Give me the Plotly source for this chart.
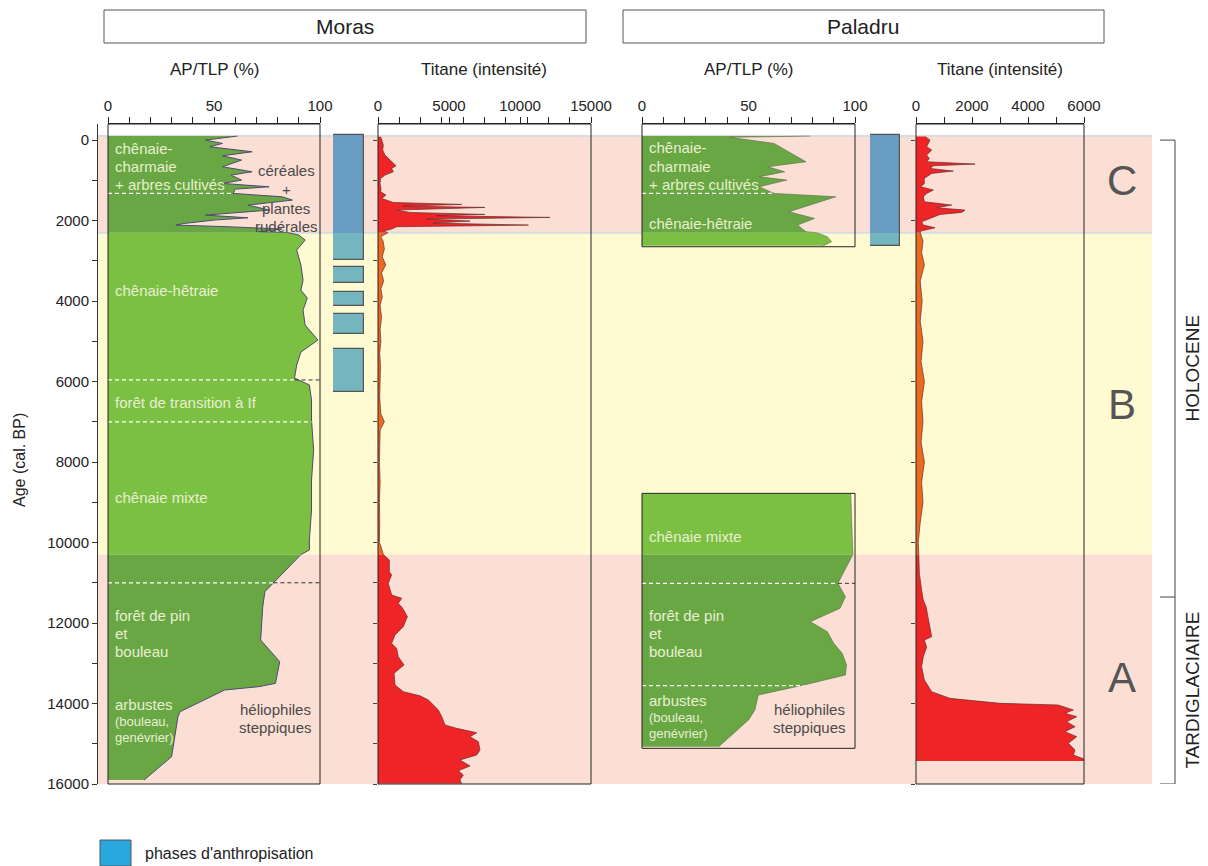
import plotly.graph_objects as go

# the page adds an 8px body margin: reference pixel positions are shifted by 8px
OFF = 8
W, H = 1208 - OFF, 866 - OFF
TOP, BOT = 124, 784          # plot area (reference pixels)
FONT = "Liberation Sans, Arial, sans-serif"

# ---------------- data (ages cal. BP) ----------------
zone_limits = [-100, 2300, 10300, 16000]       # C / B / A
zone_names = ["C", "B", "A"]
zone_label_age = [994, 6559, 13342]

moras_ap_age = [-100, 0, 83, 166, 290, 389, 497, 580, 663, 787, 870, 994, 1077, 1160, 1218, 1325,
                1408, 1491, 1615, 1740, 1864, 1930, 1988, 2071, 2112, 2153, 2211, 2277, 2300, 2360,
                2484, 2733, 3106, 3478, 3727, 3925, 4224, 4596, 4969, 5267, 5590, 5913, 6087, 6460,
                6957, 7702, 8447, 9193, 9938, 10186, 10300, 10683, 11014, 11222, 11594, 12422,
                12961, 13499, 13582, 13665, 14203, 14327, 15321, 15901]
moras_ap = [61, 46, 54, 48, 68, 54, 63, 58, 54, 68, 58, 63, 54, 76, 60, 59,
            82, 87, 66, 76, 46, 66, 50, 36, 32, 57, 82, 71, 85, 90,
            93, 89, 91, 92, 91, 94, 92, 93, 99, 91, 89, 88, 95, 96,
            96, 97, 96, 96, 95, 95, 91, 84, 78, 74, 73, 72,
            81, 79, 71, 55, 34, 33, 30, 17]

moras_ti_age = [-83, 0, 124, 248, 373, 497, 580, 638, 704, 787, 870, 952, 1077, 1201, 1284, 1367,
                1449, 1549, 1598, 1640, 1673, 1739, 1797, 1847, 1880, 1921, 1963, 2012, 2062, 2112,
                2153, 2211, 2261, 2300, 2402, 2500, 2700, 2900, 3100, 3300, 3500, 3700, 3900, 4100,
                4400, 4700, 5000, 5300, 5600, 6000, 6400, 6800, 7000, 7200, 7600, 8000, 8500, 9000,
                9500, 10000, 10104, 10300, 10435, 10725, 10807, 11014, 11304, 11387, 11511, 11635,
                11842, 12091, 12298, 12505, 12630, 12837, 13043, 13250, 13540, 13706, 13809, 13913,
                14161, 14327, 14534, 14617, 14725, 14824, 14948, 15155, 15280, 15404, 15553, 15669,
                15777, 15901, 15990]
moras_ti = [190, 260, 375, 330, 490, 845, 1080, 1270, 960, 1080, 490, 190, 140, 210, 190, 560,
            260, 1080, 5890, 1780, 7530, 1310, 2250, 7530, 4130, 12100, 3430, 6480, 3900, 10590,
            1310, 960, 375, 700, 190, 350, 450, 300, 550, 250, 400, 200, 300, 150,
            250, 150, 200, 120, 180, 150, 120, 200, 450, 150, 120, 100, 150, 100,
            120, 100, 210, 375, 800, 800, 960, 725, 960, 1670, 1430, 1740,
            2070, 1780, 1200, 960, 1310, 1430, 1830, 1130, 1200, 1780, 2960, 3550,
            4250, 4490, 4720, 5540, 6950, 6480, 7070, 7180, 6950, 5770, 6480, 5660,
            6010, 5770, 5890]

pal_ap_top_age = [-100, -70, 83, 538, 663, 787, 911, 994, 1160, 1325, 1408, 1781, 1946, 2112,
                  2277, 2300, 2402, 2526, 2626]
pal_ap_top = [79, 41, 62, 77, 59, 67, 55, 68, 55, 62, 91, 69, 81, 73, 77, 82, 87, 89, 85]

pal_ap_bot_age = [8790, 10300, 11014, 11346, 11635, 11967, 12215, 12505, 12754, 13043, 13292,
                  13540, 13789, 14161, 14410, 15073]
pal_ap_bot = [98, 99, 92, 95.5, 93, 79, 87, 90, 94, 96, 95.5, 76, 54.6, 53, 50, 36]

pal_ti_age = [-91, 0, 83, 166, 248, 373, 456, 538, 596, 638, 704, 770, 828, 952, 1077, 1160,
              1242, 1325, 1408, 1532, 1615, 1681, 1739, 1797, 1847, 1930, 2029, 2112, 2178, 2261,
              2300, 2500, 2800, 3100, 3500, 4000, 4500, 5000, 5500, 6000, 6500, 7000, 7500, 8000,
              8500, 9000, 9500, 10000, 10300, 10766, 11180, 11429, 11594, 11925, 12339, 12422,
              12600, 12837, 13085, 13416, 13706, 13872, 13996, 14037, 14161, 14244, 14327, 14451,
              14575, 14700, 14824, 14990, 15155, 15280, 15404, 15429]
pal_ti = [320, 500, 440, 380, 560, 380, 475, 380, 2110, 620, 500, 1330, 560, 290, 300, 170,
          620, 380, 260, 300, 1275, 740, 1750, 1630, 860, 560, 200, 260, 680, 170,
          150, 250, 200, 300, 150, 220, 150, 250, 180, 300, 200, 250, 180, 300,
          200, 250, 150, 80, 100, 120, 200, 260, 360, 440, 560, 300,
          380, 260, 200, 300, 560, 1210, 3000, 5080, 5620, 5320, 5740, 5380,
          5680, 5320, 5740, 5440, 5680, 5620, 6180, 6180]

moras_phase_start = [-120, 3147, 3784, 4331, 5193]
moras_phase_end = [2981, 3545, 4116, 4828, 6253]
pal_phase_start = [-120]
pal_phase_end = [2630]

# vegetation limits (age, curve value where the white dash stops, dark dash continues?)
moras_limits = [(1325, 59, False), (5960, 88, True), (7000, 96, False), (11000, 78, True)]
pal_limits = [(1325, 62, False), (11014, 92, True), (13557, 76, False)]

pal_boxes = [(-400, 2650), (8778, 15114)]

# ---------------- styling ----------------
PINK, YELLOW = "#fbdfd4", "#fffad2"
GREEN_DARK, GREEN_LIGHT = "#68a744", "#7bc043"
RED, ORANGE = "#ee2427", "#ec6a1f"
BAR_C, BAR_B = "#6a9dc4", "#74b6c0"
LIGHT_TXT, DARK_TXT = "#e9efd0", "#4a4a4a"
zone_fill = {"C": PINK, "B": YELLOW, "A": PINK}


def px(x):
    return (x - OFF) / W


def py(y):
    return (BOT - y) / (BOT - TOP)


def segments(ages, vals):
    # cut a profile at the zone limits (boundary samples belong to both parts)
    out = []
    for i, name in enumerate(zone_names):
        lo = zone_limits[i] if i else -1000
        hi = zone_limits[i + 1] if i < 2 else 99999
        pts = [(a, v) for a, v in zip(ages, vals) if lo <= a <= hi]
        if len(pts) > 1:
            out.append((name, [p[1] for p in pts], [p[0] for p in pts]))
    return out


fig = go.Figure()


def add_profile(ages, vals, xa, ya, c_out, c_in, edge, lw):
    for name, v, a in segments(ages, vals):
        fig.add_trace(go.Scatter(
            x=v, y=a, xaxis=xa, yaxis=ya, mode="lines", fill="tozerox",
            fillcolor=c_in if name == "B" else c_out,
            line=dict(color=edge, width=lw), hoverinfo="skip", showlegend=False))


add_profile(moras_ap_age, moras_ap, "x", "y", GREEN_DARK, GREEN_LIGHT, "#4e4a72", 1)
add_profile(pal_ap_top_age, pal_ap_top, "x4", "y", GREEN_DARK, GREEN_LIGHT, "#5b6650", 0.6)
add_profile(pal_ap_bot_age, pal_ap_bot, "x4", "y", GREEN_DARK, GREEN_LIGHT, "#5b6650", 0.6)
add_profile(moras_ti_age, moras_ti, "x3", "y2", RED, ORANGE, "#6a2b2b", 0.7)
add_profile(pal_ti_age, pal_ti, "x6", "y3", RED, ORANGE, "#6a2b2b", 0.7)


def add_phases(starts, ends, xa):
    for s, e in zip(starts, ends):
        for i, name in enumerate(zone_names):
            lo, hi = max(s, zone_limits[i] if i else -1000), min(e, zone_limits[i + 1])
            if hi > lo:
                fig.add_trace(go.Bar(
                    x=[0.5], y=[hi - lo], base=[lo], width=1, xaxis=xa, yaxis="y",
                    marker=dict(color=BAR_B if name == "B" else BAR_C, line=dict(width=0)),
                    hoverinfo="skip", showlegend=False))
    fig.add_trace(go.Bar(
        x=[0.5] * len(starts), y=[e - s for s, e in zip(starts, ends)], base=starts,
        width=1, xaxis=xa, yaxis="y",
        marker=dict(color="rgba(0,0,0,0)", line=dict(color="#555", width=1.2)),
        hoverinfo="skip", showlegend=False))


add_phases(moras_phase_start, moras_phase_end, "x2")
add_phases(pal_phase_start, pal_phase_end, "x5")


def add_limits(limits, xa):
    for age, stop, dark in limits:
        fig.add_trace(go.Scatter(x=[0, stop], y=[age, age], xaxis=xa, yaxis="y", mode="lines",
                                 line=dict(color="white", width=1.2, dash="4px,3px"),
                                 hoverinfo="skip", showlegend=False))
        if dark:
            fig.add_trace(go.Scatter(x=[stop, 100], y=[age, age], xaxis=xa, yaxis="y",
                                     mode="lines",
                                     line=dict(color="#333", width=1, dash="4px,3px"),
                                     hoverinfo="skip", showlegend=False))


add_limits(moras_limits, "x")
add_limits(pal_limits, "x4")

# ---------------- axes ----------------
tick_font = dict(family=FONT, size=15, color="#222")


def top_axis(dom, rng, major, minor, anchor):
    return dict(domain=[px(dom[0]), px(dom[1])], range=rng, side="top", anchor=anchor,
                showline=True, linecolor="#222", linewidth=1, ticks="outside", ticklen=6,
                tickcolor="#222", tickvals=major, ticktext=[str(v) for v in major],
                minor=dict(tickvals=minor, ticks="outside", ticklen=6, tickcolor="#222"),
                showgrid=False, zeroline=False, tickfont=tick_font, fixedrange=True,
                automargin=False)


hidden = dict(range=[0, 1], visible=False, showgrid=False, zeroline=False, fixedrange=True,
              automargin=False)
age_ticks = list(range(0, 16001, 2000))

fig.update_layout(
    width=W, height=H,
    margin=dict(l=0, r=0, t=TOP - OFF, b=H - (BOT - OFF), pad=0, autoexpand=False),
    paper_bgcolor="white", plot_bgcolor="rgba(0,0,0,0)",
    font=dict(family=FONT, color="#222"), bargap=0, barmode="overlay",
    xaxis=top_axis((108, 320), [0, 100], [0, 50, 100], list(range(0, 101, 10)), "y"),
    xaxis2=dict(domain=[px(333), px(364)], anchor="y", **hidden),
    xaxis3=top_axis((378, 591), [0, 15000], [0, 5000, 10000, 15000],
                    list(range(0, 15001, 1500)), "y2"),
    xaxis4=top_axis((642, 855), [0, 100], [0, 50, 100], list(range(0, 101, 10)), "y"),
    xaxis5=dict(domain=[px(870), px(900)], anchor="y", **hidden),
    xaxis6=top_axis((916, 1084), [0, 6000], [0, 2000, 4000, 6000],
                    list(range(0, 6001, 1000)), "y3"),
    yaxis=dict(range=[16000, -400], anchor="free", position=px(97), showline=True,
               linecolor="#333", linewidth=1, ticks="outside", ticklen=5, tickcolor="#333",
               tickvals=age_ticks, ticktext=[str(v) for v in age_ticks],
               minor=dict(tickvals=list(range(1000, 16000, 2000)), ticks="outside",
                          ticklen=5, tickcolor="#333"),
               showgrid=False, zeroline=False, tickfont=tick_font, fixedrange=True,
               automargin=False),
    yaxis2=dict(matches="y", anchor="x3", ticks="outside", ticklen=4, tickcolor="#444",
                tickvals=list(range(0, 16001, 1000)), showticklabels=False,
                showline=False, showgrid=False, zeroline=False, automargin=False),
    yaxis3=dict(matches="y", anchor="x6", ticks="outside", ticklen=4, tickcolor="#444",
                tickvals=age_ticks, showticklabels=False,
                showline=False, showgrid=False, zeroline=False, automargin=False),
)

# ---------------- shapes ----------------
shapes = []
for i, name in enumerate(zone_names):
    shapes.append(dict(type="rect", xref="paper", yref="y", x0=px(97), x1=px(1152),
                       y0=zone_limits[i], y1=zone_limits[i + 1], fillcolor=zone_fill[name],
                       line=dict(width=0), layer="below"))
for a in zone_limits[:2]:
    shapes.append(dict(type="line", xref="paper", yref="y", x0=px(97), x1=px(1152),
                       y0=a, y1=a, line=dict(color="#d6dde2", width=2), layer="below"))
for ax in ["x", "x3", "x6"]:
    shapes.append(dict(type="rect", xref=ax + " domain", yref="y domain", x0=0, x1=1,
                       y0=0, y1=1, line=dict(color="#222", width=1)))
for y0, y1 in pal_boxes:
    shapes.append(dict(type="rect", xref="x4 domain", yref="y", x0=0, x1=1, y0=y0, y1=y1,
                       line=dict(color="#222", width=1)))
# site header boxes
for x0, x1 in [(104, 586), (623, 1104)]:
    shapes.append(dict(type="rect", xref="paper", yref="paper", x0=px(x0), x1=px(x1),
                       y0=py(43), y1=py(10), line=dict(color="#555", width=1)))
# period bracket
holo_end = 11354
shapes.append(dict(type="line", xref="paper", yref="y", x0=px(1175), x1=px(1175),
                   y0=0, y1=16000, line=dict(color="#444", width=1)))
for a in [0, holo_end, 16000]:
    shapes.append(dict(type="line", xref="paper", yref="y", x0=px(1160), x1=px(1175),
                       y0=a, y1=a, line=dict(color="#444", width=1)))
# legend swatch
shapes.append(dict(type="rect", xref="paper", yref="paper", x0=px(100), x1=px(131),
                   y0=py(866), y1=py(840), fillcolor="#29a8e0",
                   line=dict(color="#555", width=1)))
fig.update_layout(shapes=shapes)

# ---------------- text ----------------
ann = []


def txt(x, y, text, xref="paper", yref="paper", size=15, color="#222", anchor="center",
        angle=0):
    ann.append(dict(x=x, y=y, xref=xref, yref=yref, text=text, showarrow=False,
                    xanchor=anchor, yanchor="middle", textangle=angle,
                    font=dict(family=FONT, size=size, color=color)))


txt(px(345), py(26), "Moras", size=21)
txt(px(863), py(26), "Paladru", size=21)
for x, t in [(215, "AP/TLP (%)"), (484, "Titane (intensité)"),
             (748, "AP/TLP (%)"), (1000, "Titane (intensité)")]:
    txt(px(x), py(69), t, size=17)
txt(px(20), py(460), "Age (cal. BP)", size=16, angle=-90)
txt(px(1193), (0 + holo_end) / 2, "HOLOCENE", yref="y", size=19, angle=-90)
txt(px(1193), (holo_end + 16000) / 2, "TARDIGLACIAIRE", yref="y", size=19, angle=-90)
for name, a in zip(zone_names, zone_label_age):
    txt(px(1122), a, name, yref="y", size=42, color="#555")
txt(px(143), py(853), "phases d'anthropisation", size=16, anchor="left")

moras_txt = [("chênaie-", 199), ("charmaie", 661), ("+ arbres cultivés", 1102),
             ("chênaie-hêtraie", 3727), ("forêt de transition à If", 6509),
             ("chênaie mixte", 8870), ("forêt de pin", 11801), ("et", 12257),
             ("bouleau", 12696), ("arbustes", 14020)]
pal_txt = [("chênaie-", 190), ("charmaie", 663), ("+ arbres cultivés", 1102),
           ("chênaie-hêtraie", 2070), ("chênaie mixte", 9839), ("forêt de pin", 11801),
           ("et", 12257), ("bouleau", 12696), ("arbustes", 13913)]
for t, a in moras_txt:
    txt(2.4, a, t, xref="x", yref="y", color=LIGHT_TXT, anchor="left")
for t, a in pal_txt:
    txt(2.2, a, t, xref="x4", yref="y", color=LIGHT_TXT, anchor="left")
for t, a in [("(bouleau,", 14451), ("genévrier)", 14849)]:
    txt(2.4, a, t, xref="x", yref="y", size=13, color=LIGHT_TXT, anchor="left")
for t, a in [("(bouleau,", 14343), ("genévrier)", 14741)]:
    txt(2.2, a, t, xref="x4", yref="y", size=13, color=LIGHT_TXT, anchor="left")
for t, a in [("céréales", 745), ("+", 1217), ("plantes", 1697), ("rudérales", 2154)]:
    txt(84, a, t, xref="x", yref="y", color=DARK_TXT)
for t, a in [("héliophiles", 14137), ("steppiques", 14601)]:
    txt(79.2, a, t, xref="x", yref="y", color=DARK_TXT)
for t, a in [("héliophiles", 14144), ("steppiques", 14591)]:
    txt(78.5, a, t, xref="x4", yref="y", color=DARK_TXT)

fig.update_layout(annotations=ann)
fig.write_html("out.html")
